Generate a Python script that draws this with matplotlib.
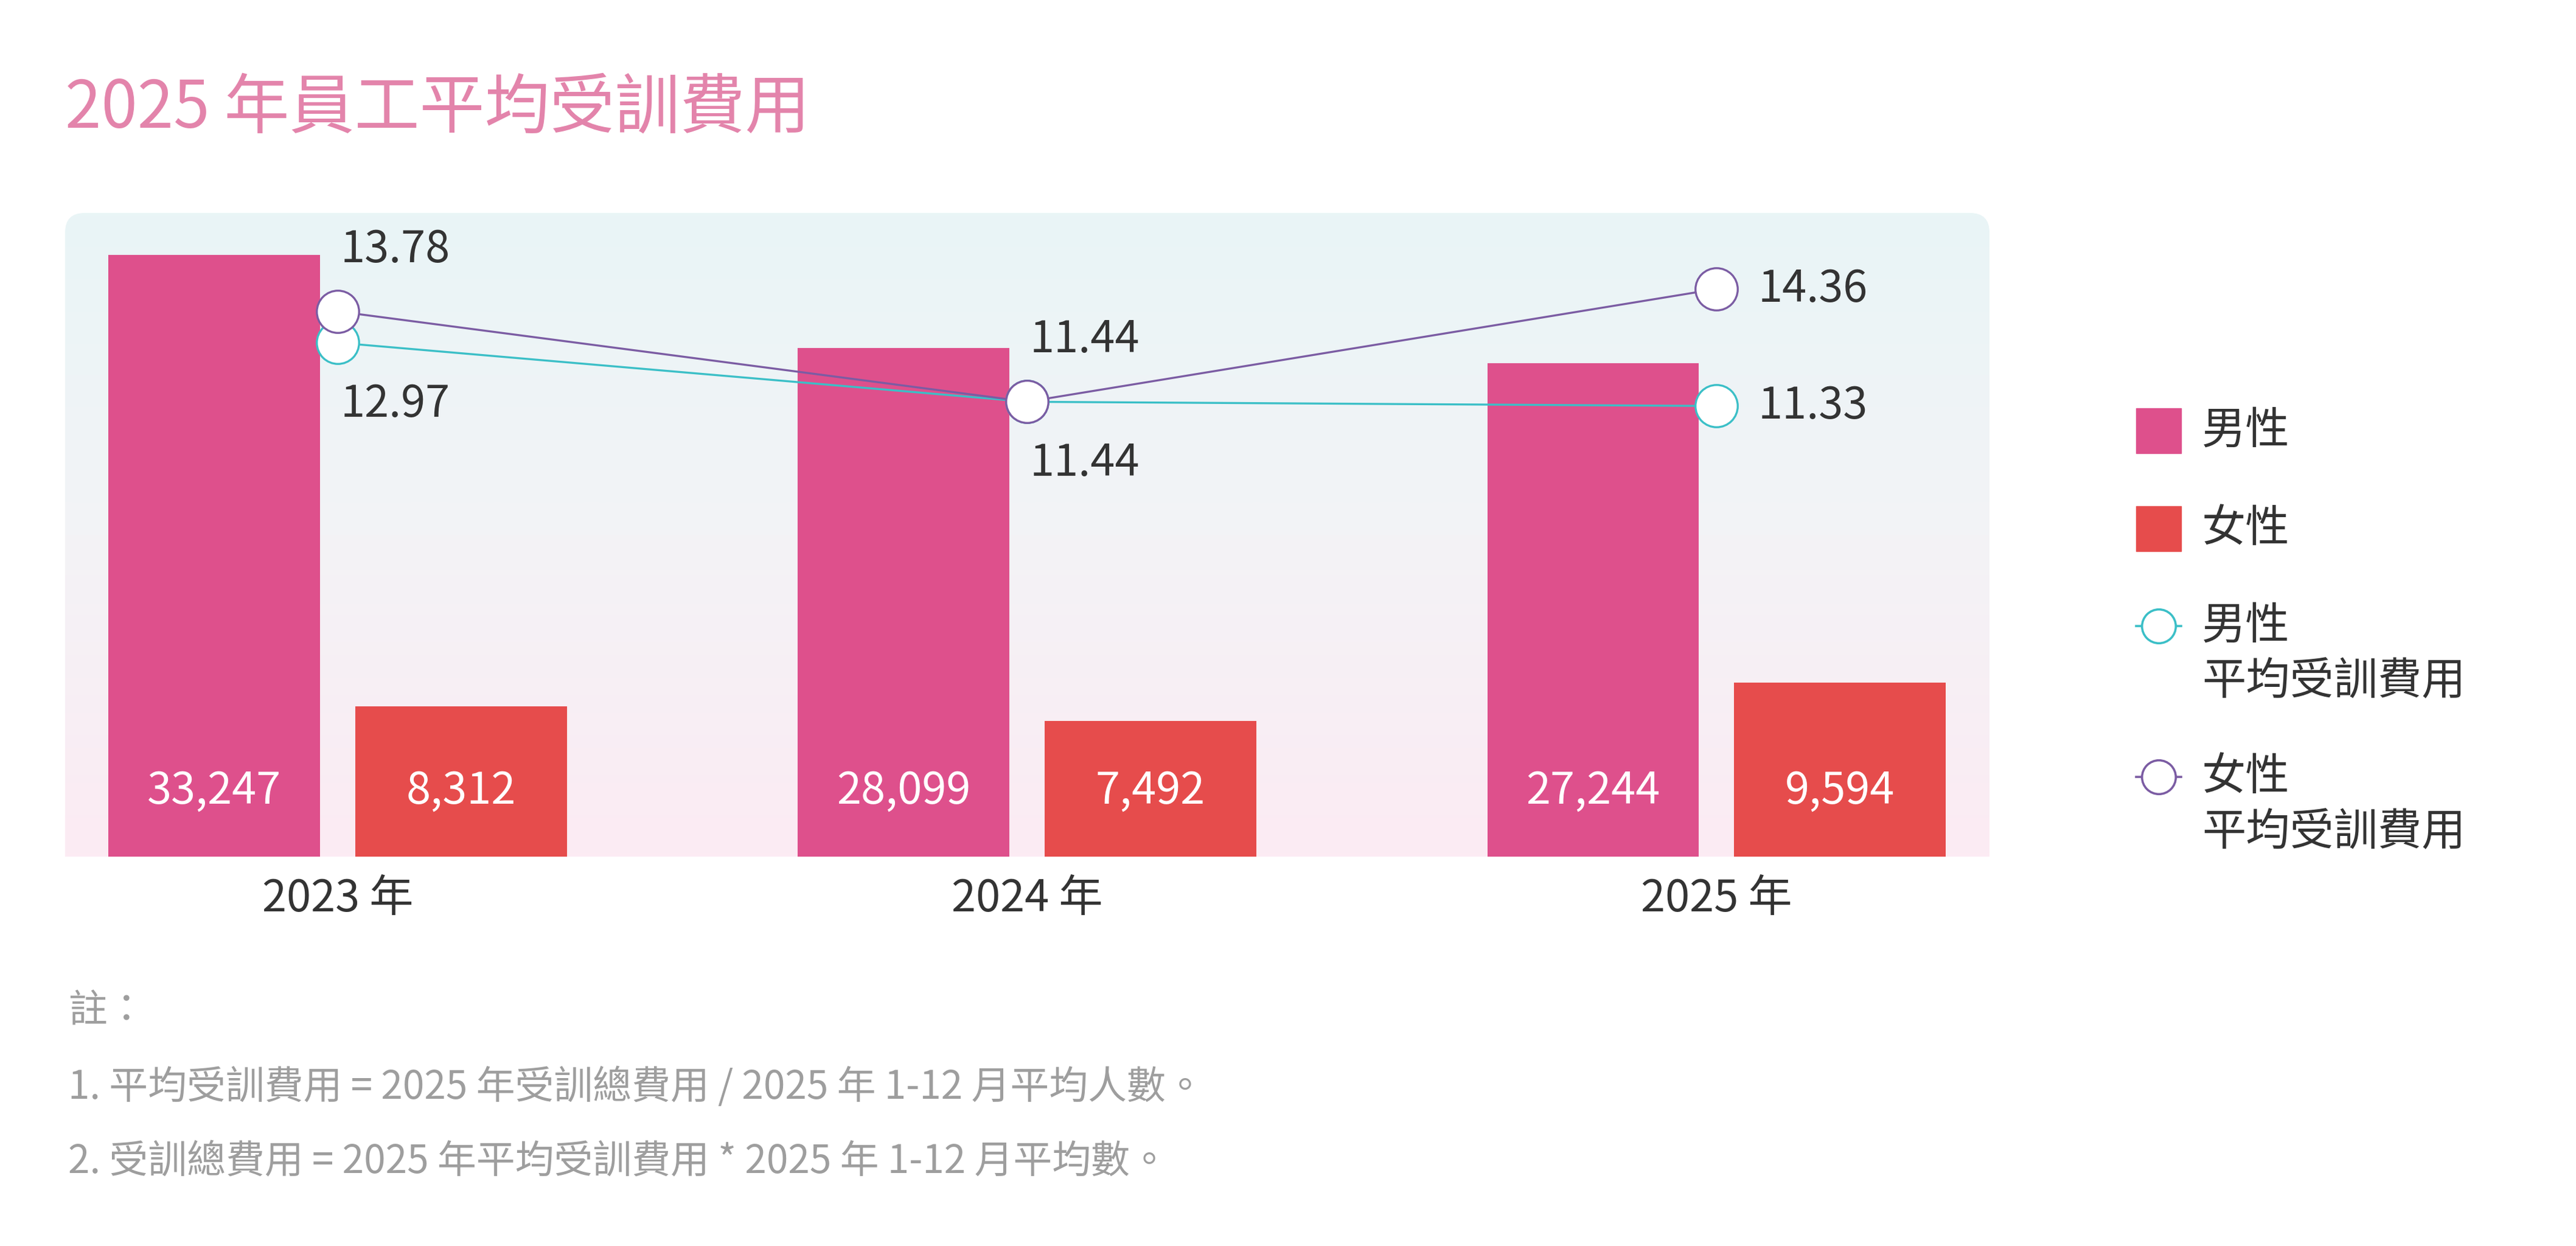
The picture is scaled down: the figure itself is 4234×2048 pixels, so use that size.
import numpy as np
import matplotlib
matplotlib.use("Agg")
import matplotlib.pyplot as plt
import matplotlib.colors as mcolors
from matplotlib.patches import FancyBboxPatch, Rectangle
from matplotlib.lines import Line2D

plt.rcParams['font.family'] = ['Noto Sans CJK TC', 'DejaVu Sans']

# data
years = ['2023 年', '2024 年', '2025 年']
male_cost = [33247, 28099, 27244]
female_cost = [8312, 7492, 9594]
male_avg = [12.97, 11.44, 11.33]
female_avg = [13.78, 11.44, 14.36]

title = '2025 年員工平均受訓費用'
legend_labels = ['男性', '女性', '男性\n平均受訓費用', '女性\n平均受訓費用']
notes = ['註：',
         '1. 平均受訓費用 = 2025 年受訓總費用 / 2025 年 1-12 月平均人數。',
         '2. 受訓總費用 = 2025 年平均受訓費用 * 2025 年 1-12 月平均數。']

MALE = '#de508c'
FEMALE = '#e64c4c'
TEAL = '#3bbfc7'
PURPLE = '#7b5ca3'
TEXT = '#333333'
NOTE = '#9e9e9e'

W, H = 4234, 2048
fig = plt.figure(figsize=(W / 100, H / 100), dpi=100)

# plot panel (pixel box 107..3270 x 350..1408)
left, right, top, bottom = 107, 3270, 350, 1408
ax = fig.add_axes([left / W, 1 - bottom / H, (right - left) / W, (bottom - top) / H])
ax.patch.set_visible(False)

# gradient background (teal at top, pink at bottom) with rounded top corners
grad = np.linspace(0, 1, 256).reshape(-1, 1)
cmap = mcolors.LinearSegmentedColormap.from_list('bg', ['#fcebf3', '#f3f3f6', '#e9f5f6'])
img = ax.imshow(grad, extent=[0, 1, 0, 1], origin='lower', transform=ax.transAxes,
                aspect='auto', cmap=cmap, zorder=0, interpolation='bicubic')
rx = 32 / (right - left)
ry = 32 / (bottom - top)
panel = FancyBboxPatch((0, -0.1), 1, 1.1, boxstyle=f'round,pad=0,rounding_size={rx}',
                       mutation_aspect=ry / rx, transform=ax.transAxes,
                       facecolor='none', edgecolor='none')
ax.add_patch(panel)
img.set_clip_path(panel)

x = np.arange(len(years))
bw = 0.307
off = 0.179
b1 = ax.bar(x - off, male_cost, bw, color=MALE, zorder=2)
b2 = ax.bar(x + off, female_cost, bw, color=FEMALE, zorder=2)

for bars, vals in [(b1, male_cost), (b2, female_cost)]:
    for r, v in zip(bars, vals):
        ax.annotate(f'{v:,}', (r.get_x() + r.get_width() / 2, 0), xytext=(0, 78),
                    textcoords='offset points', ha='center', va='center',
                    color='white', fontsize=52, zorder=3)

ax.set_xlim(-0.3954, 2.396)
ax.set_ylim(0, 35550)
ax.set_yticks([])
ax.set_xticks(x)
ax.set_xticklabels(years, fontsize=52, color=TEXT)
ax.tick_params(axis='x', length=0, pad=24)
for s in ax.spines.values():
    s.set_visible(False)

# average cost lines
ax2 = ax.twinx()
ax2.set_ylim(-0.34, 16.33)
ax2.set_yticks([])
for s in ax2.spines.values():
    s.set_visible(False)

ax2.plot(x, male_avg, color=TEAL, lw=2.4, marker='o', ms=50, mfc='white',
         mec=TEAL, mew=2.4, zorder=4)
ax2.plot(x, female_avg, color=PURPLE, lw=2.4, marker='o', ms=50, mfc='white',
         mec=PURPLE, mew=2.4, zorder=5)

# label placement: above/below for first two years, to the right for the last
for i in range(len(years)):
    if i < 2:
        ax2.annotate(f'{female_avg[i]:.2f}', (x[i], female_avg[i]), xytext=(3, 73),
                     textcoords='offset points', ha='left', va='center',
                     fontsize=52, color=TEXT)
        ax2.annotate(f'{male_avg[i]:.2f}', (x[i], male_avg[i]), xytext=(3, -73),
                     textcoords='offset points', ha='left', va='center',
                     fontsize=52, color=TEXT)
    else:
        for vals in (female_avg, male_avg):
            ax2.annotate(f'{vals[i]:.2f}', (x[i], vals[i]), xytext=(49, 0),
                         textcoords='offset points', ha='left', va='center',
                         fontsize=52, color=TEXT)

# overlay in pixel coordinates for title, legend, notes
lay = fig.add_axes([0, 0, 1, 1])
lay.set_xlim(0, W)
lay.set_ylim(H, 0)
lay.axis('off')

lay.text(107, 179, title, fontsize=77, color='#e384ab', ha='left', va='center')

item_y = [708, 869, 1029, 1277]
handles = [('bar', MALE), ('bar', FEMALE), ('line', TEAL), ('line', PURPLE)]
for (kind, c), lab, yy in zip(handles, legend_labels, item_y):
    if kind == 'bar':
        lay.add_patch(Rectangle((3511, yy - 37), 74, 74, color=c))
    else:
        lay.add_line(Line2D([3511, 3585], [yy, yy], color=c, lw=2.6))
        lay.plot([3548], [yy], marker='o', ms=40, mfc='white', mec=c, mew=2.6)
    for j, line in enumerate(lab.split('\n')):
        lay.text(3619, yy + j * 92, line, fontsize=52, color=TEXT, ha='left', va='center')

for yy, n in zip([1662, 1788, 1910], notes):
    lay.text(112, yy, n, fontsize=46, color=NOTE, ha='left', va='center')

fig.savefig('out.png', dpi=100, facecolor='white')
